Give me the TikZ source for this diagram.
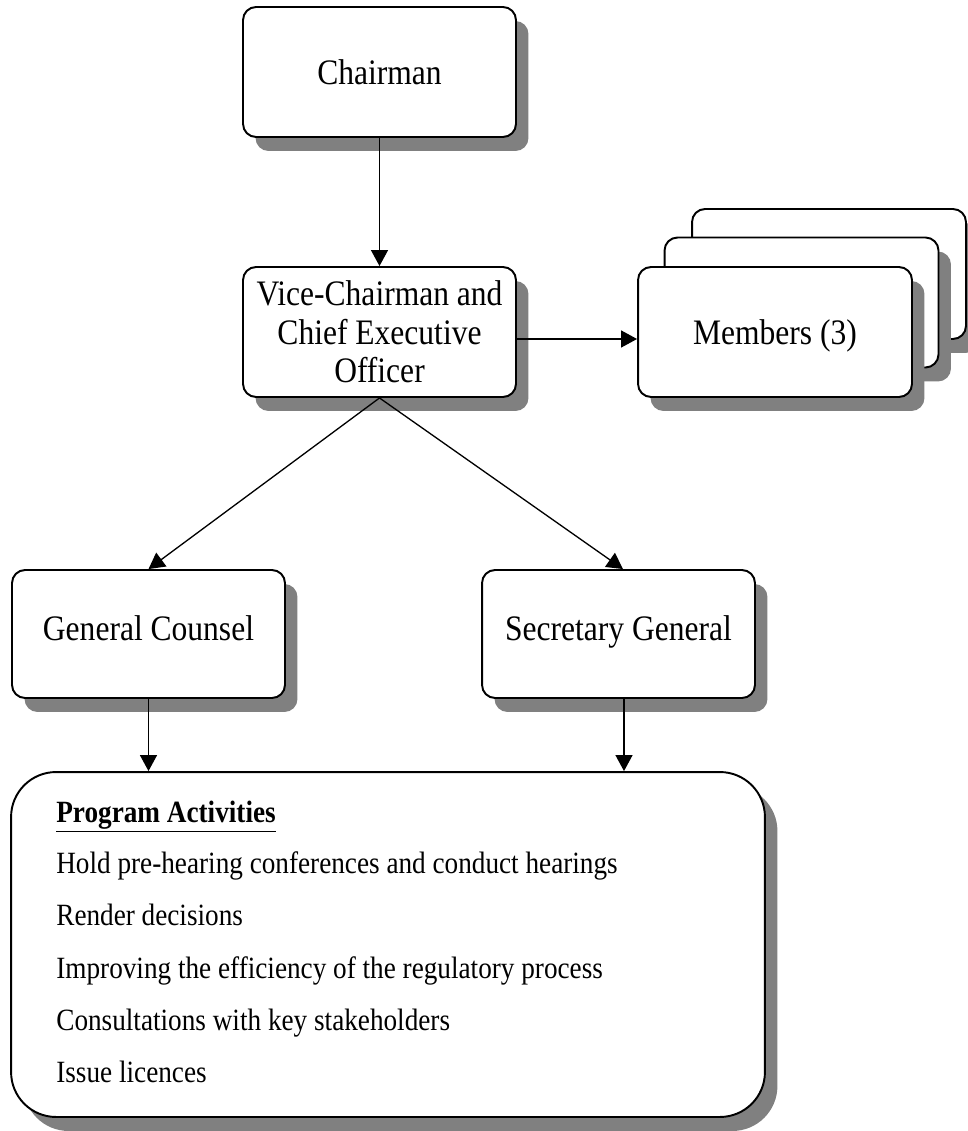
\documentclass[tikz,border=0pt]{standalone}
\usepackage{fontspec}
\setmainfont{Liberation Serif}
\newfontfamily\narrowserif[FakeStretch=0.88]{Liberation Serif}
\usetikzlibrary{arrows.meta,positioning,shadows}
\definecolor{ShadowGray}{RGB}{128,128,128}
\tikzset{
  post/.style={draw=black,line width=1.1pt,rounded corners=0.26cm,fill=white,
    minimum width=5.46cm,minimum height=2.6cm,align=center,
    font=\narrowserif\fontsize{20.4}{22}\selectfont,
    drop shadow={shadow xshift=0.25cm,shadow yshift=-0.28cm,fill=ShadowGray,opacity=1}},
  oneline/.style={text height=0.62cm,text depth=0.1cm},
  arrow/.style={-{Triangle[length=0.32cm,width=0.34cm]},line width=0.75pt},
  item/.style={anchor=base west,inner sep=0pt,font=\narrowserif\fontsize{17.6}{18}\selectfont}
}

\begin{document}
\begin{tikzpicture}[x=0.02cm,y=-0.02cm]
  \useasboundingbox (0,0) rectangle (967,1131);

  \node[post,oneline] (chair) at (379.5,72) {Chairman};
  \node[post] (vice) at (379.5,332) {Vice-Chairman and\\Chief Executive\\Officer};

  % stacked member boxes, back to front
  \node[post,minimum width=5.48cm] (memc) at (829,274) {};
  \node[post,minimum width=5.48cm] (memb) at (801.5,302.5) {};
  \node[post,oneline,minimum width=5.48cm] (mema) at (775,332) {Members (3)};

  \node[post,minimum height=2.56cm,text height=0.5cm,text depth=0.26cm] (counsel) at (148.5,634) {General Counsel};
  \node[post,minimum height=2.56cm,text height=0.5cm,text depth=0.26cm] (secgen) at (618.5,634) {Secretary General};

  \node[post,minimum width=15.08cm,minimum height=6.9cm,rounded corners=0.9cm] (prog) at (388,944.5) {};

  \node[item,font=\narrowserif\fontsize{17.6}{18}\selectfont\bfseries] (acthead) at (56,822) {\underline{Program Activities}};
  \node[item] (act1) at (56,873) {Hold pre-hearing conferences and conduct hearings};
  \node[item] (act2) at (56,925) {Render decisions};
  \node[item] (act3) at (56,978) {Improving the efficiency of the regulatory process};
  \node[item] (act4) at (56,1030) {Consultations with key stakeholders};
  \node[item] (act5) at (56,1082) {Issue licences};

  \draw[arrow] (chair) -- (vice);
  \draw[arrow] ([yshift=-0.14cm]vice.east) -- ([yshift=-0.14cm]mema.west);
  \draw[arrow] (vice.south) -- (counsel.north);
  \draw[arrow] (vice.south) -- ([xshift=0.09cm]secgen.north);
  \draw[arrow] (counsel.south) -- (counsel.south |- prog.north);
  \draw[arrow] ([xshift=0.11cm]secgen.south) -- ([xshift=0.11cm]secgen.south |- prog.north);
\end{tikzpicture}
\end{document}
